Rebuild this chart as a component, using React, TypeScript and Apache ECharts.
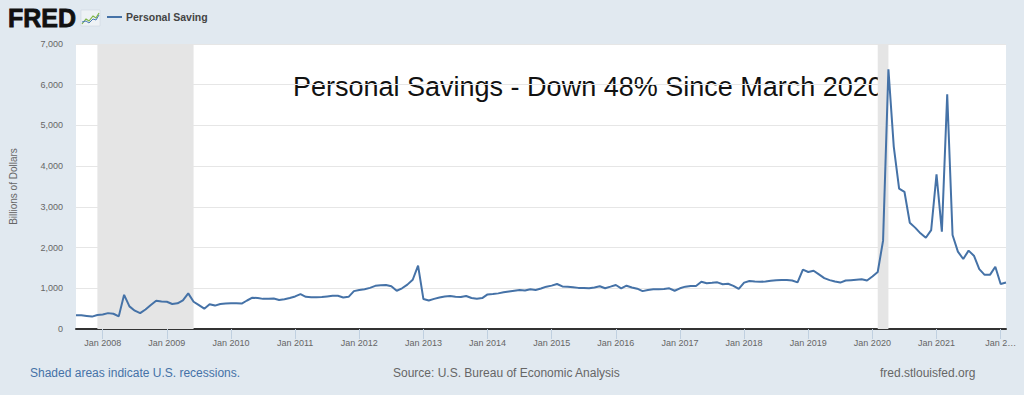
import React, { useEffect, useRef } from "react";
import * as echarts from "echarts";

// Personal Saving, billions of dollars (monthly, SAAR)
const saving2007 = [335, 335, 320, 305, 345]; // Aug–Dec
const saving2008 = [355, 390, 375, 310, 840, 555, 450, 390, 480, 590, 695, 675];
const saving2009 = [670, 615, 630, 705, 875, 670, 585, 500, 610, 575, 615, 625];
const saving2010 = [630, 630, 625, 700, 770, 760, 740, 745, 750, 712, 730, 760];
const saving2011 = [800, 855, 790, 780, 780, 785, 800, 815, 815, 775, 790, 930];
const saving2012 = [960, 975, 1010, 1060, 1075, 1080, 1050, 940, 1000, 1090, 1210, 1556];
const saving2013 = [735, 700, 740, 775, 800, 810, 790, 785, 810, 760, 745, 760];
const saving2014 = [850, 860, 875, 900, 920, 940, 955, 945, 975, 960, 995, 1040];
const saving2015 = [1065, 1105, 1045, 1035, 1025, 1010, 1005, 1000, 1020, 1050, 1000, 1040];
const saving2016 = [1081, 1000, 1064, 1020, 990, 930, 960, 975, 975, 985, 1000, 940];
const saving2017 = [1000, 1040, 1055, 1056, 1160, 1125, 1135, 1146, 1100, 1110, 1060, 985];
const saving2018 = [1140, 1180, 1165, 1160, 1165, 1185, 1200, 1205, 1205, 1190, 1145, 1460];
const saving2019 = [1400, 1430, 1340, 1250, 1200, 1165, 1140, 1190, 1200, 1210, 1220, 1190];
const saving2020 = [1290, 1400, 2170, 6380, 4480, 3450, 3370, 2610, 2490, 2350, 2240, 2430];
const saving2021 = [3800, 2390, 5765, 2310, 1900, 1720, 1925, 1800, 1470, 1330, 1330, 1530];
const saving2022 = [1105, 1140]; // Jan–Feb

const seriesYears = [2007, 2008, 2009, 2010, 2011, 2012, 2013, 2014, 2015, 2016, 2017, 2018, 2019, 2020, 2021, 2022];
const firstMonths = [8, 1, 1, 1, 1, 1, 1, 1, 1, 1, 1, 1, 1, 1, 1, 1];
const yearValues = [
  saving2007, saving2008, saving2009, saving2010, saving2011, saving2012, saving2013, saving2014,
  saving2015, saving2016, saving2017, saving2018, saving2019, saving2020, saving2021, saving2022,
];

const recessions = [
  ["2007-12", "2009-06"],
  ["2020-02", "2020-04"],
];

const yTicks = { min: 0, max: 7000, interval: 1000 };

const pad = (n: number) => (n < 10 ? "0" + n : "" + n);
const months: string[] = [];
const values: number[] = [];
seriesYears.forEach((yr, yi) => {
  yearValues[yi].forEach((v, mi) => {
    months.push(`${yr}-${pad(firstMonths[yi] + mi)}`);
    values.push(v);
  });
});

const FONT = '"Liberation Sans", Arial, Helvetica, sans-serif';

export default function App() {
  const ref = useRef<HTMLDivElement>(null);
  useEffect(() => {
    if (!ref.current) return;
    const chart = echarts.init(ref.current, undefined, { renderer: "svg" });
    const isJan = (_i: number, v: string) => v.endsWith("-01");
    chart.setOption({
      animation: false,
      backgroundColor: "#e1e9f0",
      textStyle: { fontFamily: FONT },
      grid: {
        left: 75,
        right: 18,
        top: 44,
        bottom: 66,
        show: true,
        backgroundColor: "#ffffff",
        borderWidth: 0,
      },
      xAxis: {
        type: "category",
        data: months,
        boundaryGap: false,
        axisLine: { show: true, lineStyle: { color: "#333333", width: 2 } },
        axisTick: { show: true, interval: isJan, length: 10, lineStyle: { color: "#c0d0e0", width: 1 } },
        axisLabel: {
          interval: isJan,
          color: "#666666",
          fontSize: 9,
          margin: 9,
          fontFamily: FONT,
          formatter: (v: string) => {
            const yr = v.slice(0, 4);
            return yr === "2022" ? "Jan 2…" : "Jan " + yr;
          },
        },
        splitLine: { show: false },
      },
      yAxis: {
        type: "value",
        min: yTicks.min,
        max: yTicks.max,
        interval: yTicks.interval,
        name: "Billions of Dollars",
        nameLocation: "middle",
        nameGap: 58,
        nameTextStyle: { color: "#666666", fontSize: 10, fontFamily: FONT },
        axisLine: { show: false },
        axisTick: { show: false },
        axisLabel: {
          color: "#666666",
          fontSize: 9,
          margin: 13,
          fontFamily: FONT,
          formatter: (v: number) => v.toLocaleString("en-US"),
        },
        splitLine: { show: true, lineStyle: { color: "#e6e6e6", width: 1 } },
      },
      series: [
        {
          name: "Personal Saving",
          type: "line",
          data: values,
          showSymbol: false,
          lineStyle: { color: "#4572a7", width: 2 },
          itemStyle: { color: "#4572a7" },
          markArea: {
            silent: true,
            itemStyle: { color: "#e5e5e5" },
            data: recessions.map(([a, b]) => [{ xAxis: a }, { xAxis: b }]),
          },
        },
      ],
      graphic: [
        {
          type: "text",
          x: 8,
          y: 18,
          style: {
            text: "FRED",
            font: `900 25px ${FONT}`,
            fill: "#111111",
            stroke: "#111111",
            lineWidth: 0.8,
            verticalAlign: "middle",
            align: "left",
          },
        },
        {
          type: "group",
          x: 81,
          y: 10,
          children: [
            { type: "rect", shape: { x: 0, y: 0, width: 19, height: 16 }, style: { fill: "#eef2f5", stroke: "#c9d3dc", lineWidth: 0.5 } },
            { type: "polyline", shape: { points: [[1, 14], [5, 9], [8, 11], [12, 6], [15, 8], [18, 3]] }, style: { stroke: "#7db544", lineWidth: 1.2, fill: "none" } },
            { type: "polyline", shape: { points: [[1, 12], [5, 11], [8, 13], [12, 9], [15, 10], [18, 5]] }, style: { stroke: "#4a7bb7", lineWidth: 1, fill: "none" } },
          ],
        },
        {
          type: "line",
          shape: { x1: 107, y1: 17, x2: 122, y2: 17 },
          style: { stroke: "#4572a7", lineWidth: 2 },
        },
        {
          type: "text",
          x: 126,
          y: 17,
          style: {
            text: "Personal Saving",
            font: `bold 10.5px ${FONT}`,
            fill: "#444444",
            verticalAlign: "middle",
            align: "left",
          },
        },
        {
          type: "text",
          x: 293,
          y: 87,
          style: {
            text: "Personal Savings - Down 48% Since March 2020",
            font: `27px ${FONT}`,
            fill: "#111111",
            stroke: "none",
            lineWidth: 0,
            verticalAlign: "middle",
            align: "left",
          },
        },
        {
          type: "text",
          x: 30,
          y: 373,
          style: {
            text: "Shaded areas indicate U.S. recessions.",
            font: `12px ${FONT}`,
            fill: "#4572a7",
            verticalAlign: "middle",
            align: "left",
          },
        },
        {
          type: "text",
          x: 393,
          y: 373,
          style: {
            text: "Source: U.S. Bureau of Economic Analysis",
            font: `12px ${FONT}`,
            fill: "#666666",
            verticalAlign: "middle",
            align: "left",
          },
        },
        {
          type: "text",
          x: 880,
          y: 373,
          style: {
            text: "fred.stlouisfed.org",
            font: `12px ${FONT}`,
            fill: "#666666",
            verticalAlign: "middle",
            align: "left",
          },
        },
      ],
    });
    return () => chart.dispose();
  }, []);
  return (
    <div
      ref={ref}
      style={{ position: "fixed", left: 0, top: 0, width: 1024, height: 395 }}
    />
  );
}
